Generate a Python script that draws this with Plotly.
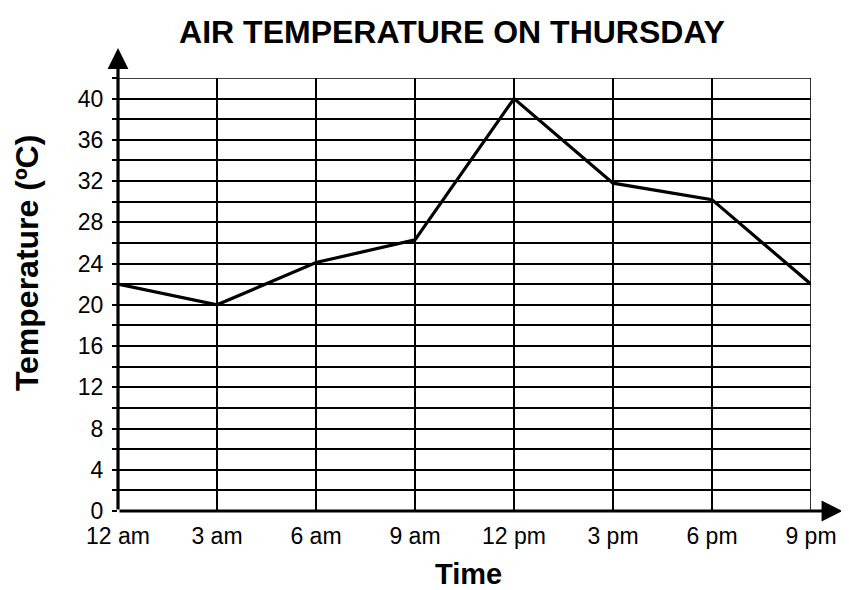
import plotly.graph_objects as go

# time of day in hours after midnight
hours = [0, 3, 6, 9, 12, 15, 18, 21]
time_labels = ["12 am", "3 am", "6 am", "9 am", "12 pm", "3 pm", "6 pm", "9 pm"]
temperature = [22, 20, 24.1, 26.3, 40, 31.8, 30.2, 22]
y_ticks = [0, 4, 8, 12, 16, 20, 24, 28, 32, 36, 40]

FONT = "Liberation Sans, Arial, sans-serif"

fig = go.Figure()
fig.add_trace(go.Scatter(
    x=hours, y=temperature,
    mode="lines",
    line=dict(color="black", width=3.2),
    showlegend=False,
    cliponaxis=False,
))

fig.update_layout(
    width=849, height=590,
    margin=dict(l=110, r=46, t=70, b=87),
    plot_bgcolor="white", paper_bgcolor="white",
    font=dict(family=FONT, color="black", size=23),
    title=dict(
        text="<b>AIR TEMPERATURE ON THURSDAY</b>",
        x=0.523, xanchor="center", y=0.959, yanchor="middle",
        font=dict(size=32, family=FONT),
    ),
    xaxis=dict(
        range=[0, 21],
        tickvals=hours, ticktext=time_labels,
        showgrid=True, gridcolor="black", gridwidth=1.6,
        zeroline=False, showline=False,
        ticks="", ticklabelstandoff=9,
        tickfont=dict(size=23),
    ),
    yaxis=dict(
        range=[0, 42],
        tickvals=y_ticks,
        showgrid=True, gridcolor="black", gridwidth=1.6,
        zeroline=False, showline=False,
        ticks="outside", ticklen=5, tickcolor="black", tickwidth=1.5,
        ticklabelstandoff=4,
        minor=dict(dtick=2, showgrid=True, gridcolor="black", gridwidth=1.6,
                   ticks="outside", ticklen=5, tickcolor="black"),
        tickfont=dict(size=23),
    ),
)

# top and right border of the grid
fig.add_shape(type="line", xref="x", yref="y", x0=0, x1=21, y0=42, y1=42,
              line=dict(color="black", width=1.6))
fig.add_shape(type="line", xref="x", yref="y", x0=21, x1=21, y0=0, y1=42,
              line=dict(color="black", width=1.6))

# thick axes with arrow heads
fig.add_annotation(x=0, y=44.9, ax=0, ay=0, xref="x", yref="y", axref="x", ayref="y",
                   text="", showarrow=True, arrowhead=2, arrowsize=1.3, arrowwidth=3.2,
                   arrowcolor="black")
fig.add_annotation(x=21.95, y=0, ax=0, ay=0, xref="x", yref="y", axref="x", ayref="y",
                   text="", showarrow=True, arrowhead=2, arrowsize=1.3, arrowwidth=3.2,
                   arrowcolor="black")

# axis titles
fig.add_annotation(text="<b>Time</b>", xref="paper", yref="paper",
                   x=0.506, y=-0.146, xanchor="center", yanchor="middle",
                   showarrow=False, font=dict(size=29))
fig.add_annotation(text="<b>Temperature (ºC)</b>", xref="paper", yref="paper",
                   x=-0.131, y=0.573, xanchor="center", yanchor="middle", textangle=-90,
                   showarrow=False, font=dict(size=32))

fig.write_html("out.html")
